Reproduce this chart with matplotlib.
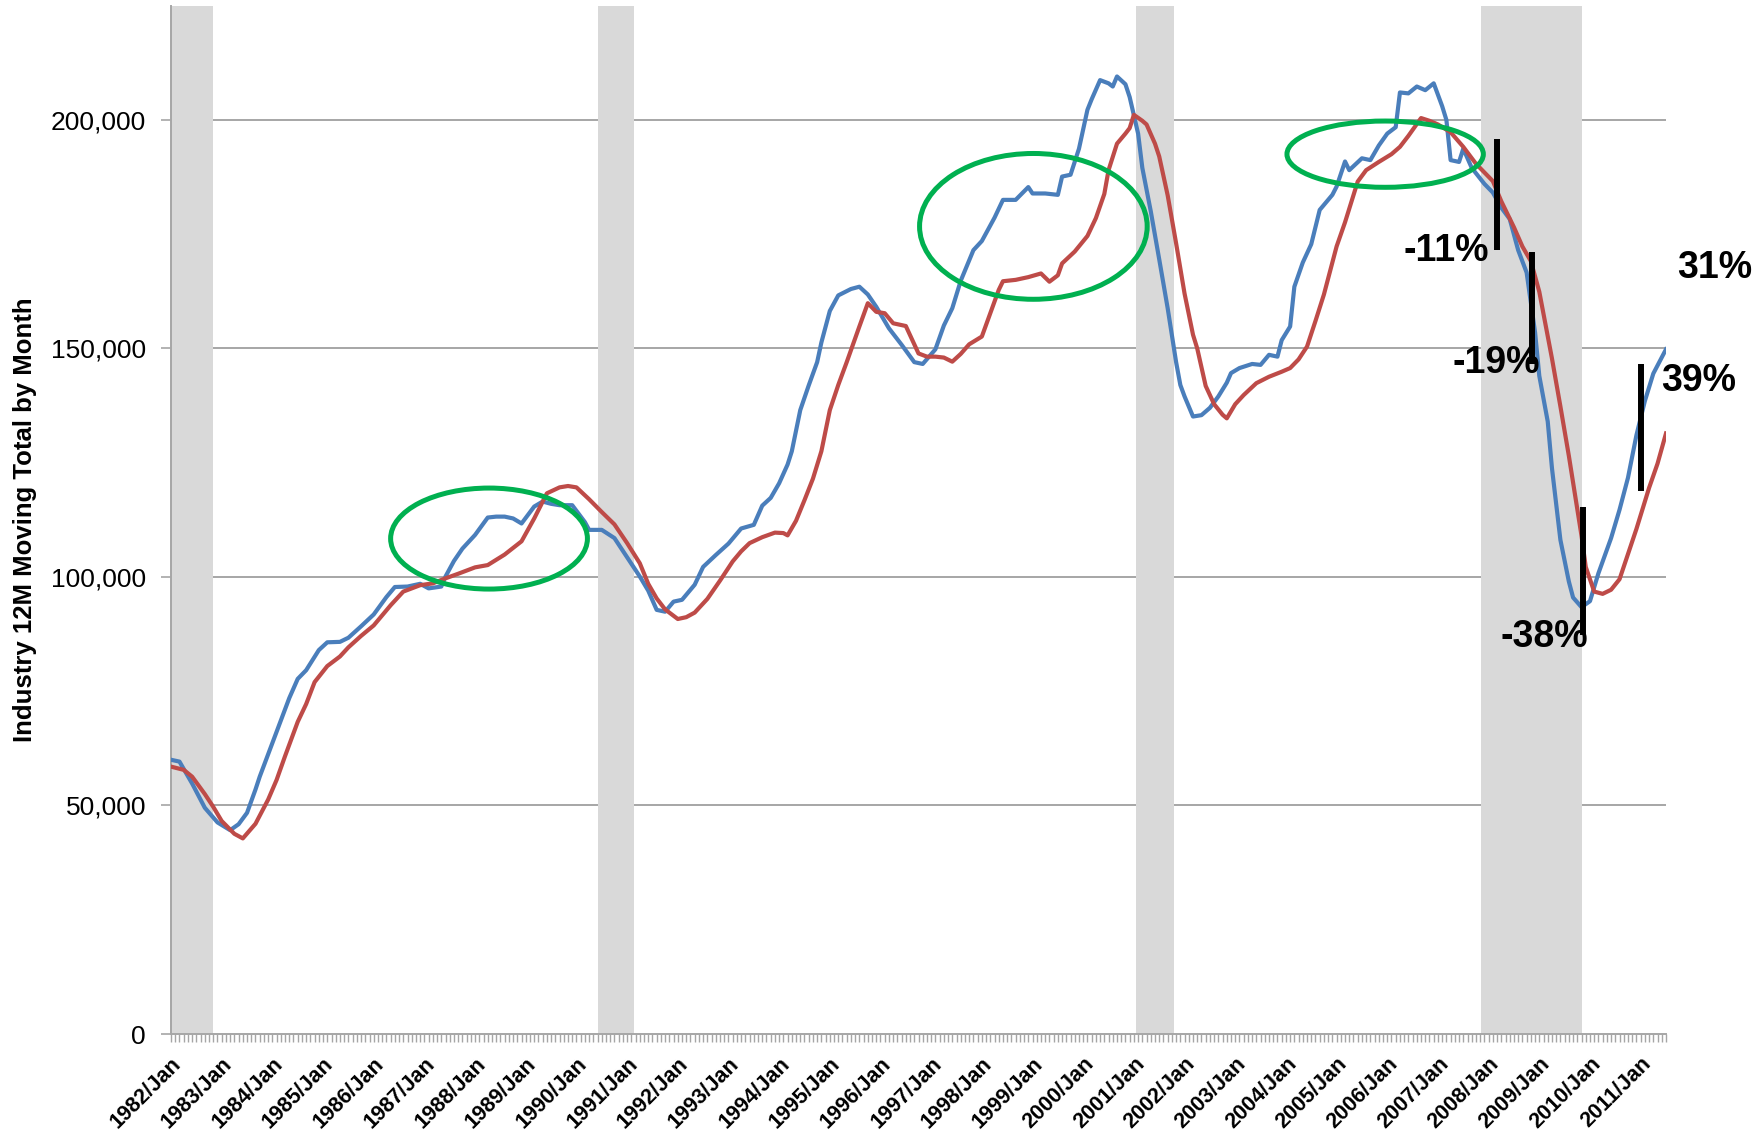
import matplotlib
matplotlib.use("Agg")
import matplotlib.pyplot as plt
from matplotlib.patches import Ellipse
from matplotlib.ticker import FixedLocator, FuncFormatter

plt.rcParams['font.family'] = ['Liberation Sans', 'DejaVu Sans']

# ---------------- data (month index 0 = 1982/Jan, values in thousands) ----------------
years = list(range(1982, 2012))
tick_labels = [f"{y}/Jan" for y in years]

blue_series = [
    (0, 60.0), (2, 59.6), (5, 54.8), (8, 49.5), (11, 46.3), (14, 44.6), (16, 45.9), (18, 48.4),
    (20, 53.5), (21, 56.3), (23, 61.2), (26, 68.5), (28, 73.5), (30, 77.7), (32, 79.6), (35, 84.0),
    (37, 85.7), (40, 85.8), (42, 86.7), (45, 89.2), (48, 91.8), (51, 95.6), (53, 97.8), (56, 97.9),
    (59, 98.5), (61, 97.5), (64, 97.9), (65, 100.1), (67, 103.5), (69, 106.2), (72, 109.2), (75, 113.0),
    (77, 113.2), (79, 113.2), (81, 112.8), (83, 111.7), (86, 115.4), (88, 116.5), (90, 116.0), (92, 115.7),
    (95, 115.7), (98, 112.0), (99, 110.3), (102, 110.3), (105, 108.5), (108, 104.3), (111, 100.1), (113, 97.0),
    (115, 92.8), (117, 92.4), (119, 94.6), (121, 95.0), (124, 98.3), (126, 102.2), (129, 104.8), (132, 107.3),
    (135, 110.6), (138, 111.4), (140, 115.6), (142, 117.3), (144, 120.5), (146, 124.6), (147, 127.5), (149, 136.5),
    (151, 141.9), (153, 147.0), (154, 151.3), (156, 158.2), (158, 161.6), (161, 163.0), (163, 163.5), (165, 161.8),
    (167, 159.1), (170, 154.4), (173, 150.8), (176, 147.0), (178, 146.6), (181, 149.8), (183, 155.0), (185, 158.8),
    (187, 164.8), (190, 171.5), (192, 173.5), (195, 178.6), (197, 182.5), (200, 182.5), (203, 185.3), (204, 183.9),
    (207, 183.9), (210, 183.6), (211, 187.6), (213, 188.0), (215, 193.7), (217, 202.2), (218, 204.5), (220, 208.7),
    (222, 208.0), (223, 207.3), (224, 209.5), (226, 207.8), (227, 205.0), (229, 197.0), (230, 189.5), (232, 180.0),
    (234, 169.5), (236, 158.8), (238, 147.0), (239, 142.0), (240, 139.5), (242, 135.1), (244, 135.4), (246, 137.0),
    (248, 139.5), (250, 142.5), (251, 144.6), (253, 145.7), (256, 146.6), (258, 146.4), (260, 148.6), (262, 148.2),
    (263, 151.8), (265, 154.8), (266, 163.5), (268, 168.8), (270, 172.8), (272, 180.3), (275, 183.6), (276, 185.4),
    (278, 190.9), (279, 189.0), (282, 191.6), (284, 191.2), (286, 194.4), (288, 197.0), (290, 198.4), (291, 206.0),
    (293, 205.8), (295, 207.3), (297, 206.5), (299, 208.0), (301, 203.0), (302, 200.0), (303, 191.2), (305, 190.8),
    (306, 193.7), (308, 189.5), (311, 186.0), (313, 184.1), (315, 180.8), (317, 178.3), (319, 171.5), (321, 166.6),
    (323, 153.5), (324, 144.0), (326, 134.0), (327, 123.8), (329, 108.1), (331, 99.0), (332, 95.5), (334, 93.4),
    (336, 94.7), (338, 100.8), (341, 108.5), (343, 114.7), (345, 121.7), (347, 131.0), (349, 138.5), (351, 144.5),
    (354, 149.8),
]

red_series = [
    (0, 58.5), (3, 57.8), (5, 56.3), (8, 52.5), (10, 49.7), (12, 46.6), (15, 43.8), (17, 42.8),
    (20, 46.0), (23, 51.3), (25, 55.6), (27, 60.8), (30, 68.3), (32, 72.2), (34, 77.0), (37, 80.5),
    (40, 82.6), (42, 84.6), (45, 87.1), (48, 89.4), (52, 93.8), (55, 96.8), (59, 98.2), (62, 98.6),
    (65, 99.7), (68, 100.7), (72, 102.1), (75, 102.6), (79, 104.9), (83, 107.8), (86, 112.8), (89, 118.3),
    (92, 119.6), (94, 119.9), (96, 119.6), (99, 117.0), (102, 114.2), (105, 111.5), (108, 107.4), (111, 103.0),
    (113, 98.5), (115, 95.3), (117, 92.9), (120, 90.8), (122, 91.2), (124, 92.2), (127, 95.2), (130, 99.2),
    (133, 103.4), (135, 105.6), (137, 107.4), (140, 108.7), (143, 109.7), (145, 109.6), (146, 109.1), (148, 112.3),
    (150, 116.8), (152, 121.5), (154, 127.5), (156, 136.5), (158, 142.0), (160, 147.0), (163, 154.8), (165, 159.9),
    (167, 158.0), (169, 157.7), (171, 155.5), (174, 154.9), (177, 148.9), (179, 148.2), (181, 148.2), (183, 148.0),
    (185, 147.1), (187, 148.8), (189, 150.9), (192, 152.6), (194, 157.7), (196, 162.8), (197, 164.7), (200, 165.0),
    (203, 165.6), (206, 166.4), (208, 164.6), (210, 166.0), (211, 168.6), (214, 171.2), (217, 174.6), (219, 178.5),
    (221, 183.8), (222, 189.0), (224, 194.8), (226, 197.0), (227, 198.2), (228, 201.1), (230, 199.8), (231, 199.0),
    (233, 194.8), (234, 192.0), (236, 183.5), (238, 173.0), (240, 162.0), (242, 153.0), (243, 150.0), (245, 141.8),
    (247, 137.8), (249, 135.5), (250, 134.7), (252, 137.8), (254, 139.8), (257, 142.4), (260, 143.8), (263, 144.9),
    (265, 145.7), (267, 147.6), (269, 150.4), (271, 156.0), (273, 161.8), (276, 172.3), (278, 177.6), (280, 183.5),
    (281, 186.5), (283, 189.0), (286, 190.8), (289, 192.5), (291, 194.1), (293, 196.5), (296, 200.4), (298, 199.8),
    (300, 199.0), (303, 197.3), (306, 194.1), (309, 190.4), (313, 186.6), (315, 182.2), (318, 176.5), (320, 172.3),
    (322, 169.1), (324, 162.4), (327, 147.8), (329, 137.3), (331, 126.5), (334, 109.0), (335, 102.2), (337, 96.8),
    (339, 96.3), (341, 97.2), (343, 99.5), (345, 105.0), (347, 110.5), (350, 119.5), (352, 124.8), (354, 131.4),
]

# recession shading (start month, end month)
recessions = [(0, 10.0), (101.1, 109.7), (228.5, 237.4), (310.2, 334.1)]

# green ellipses: (center month, center value k, width months, height k)
ellipses = [(75.3, 108.4, 46.6, 22.1), (204.2, 176.7, 53.9, 31.9), (287.5, 192.5, 46.5, 14.5)]

# black vertical bars: (month, low k, high k)
bars = [(314.0, 171.5, 195.8), (322.3, 146.5, 171.2), (334.4, 87.2, 115.3), (348.2, 118.9, 146.7)]

# percent labels: (text, month, value k)
pct_labels = [("-11%", 302.0, 171.4), ("-19%", 313.9, 146.8), ("-38%", 325.2, 86.9),
              ("39%", 361.7, 142.9), ("31%", 365.5, 167.7)]

y_ticks = [0, 50000, 100000, 150000, 200000]

# ---------------- figure ----------------
fig = plt.figure(figsize=(17.65, 11.47), dpi=100)
ax = fig.add_axes([0.0969, 0.0985, 0.8470, 0.8966])

for a, b in recessions:
    ax.axvspan(a, b, color='#d9d9d9', lw=0, zorder=1)

for v in y_ticks[1:]:
    ax.axhline(v, color='#a6a6a6', lw=1.4, zorder=0.5)

bm = [p[0] for p in blue_series]
bv = [p[1] * 1000 for p in blue_series]
rm = [p[0] for p in red_series]
rv = [p[1] * 1000 for p in red_series]
ax.plot(bm, bv, color='#4a7ebb', lw=3.0, zorder=3, solid_joinstyle='round')
ax.plot(rm, rv, color='#be4b48', lw=3.0, zorder=3.1, solid_joinstyle='round')

for cx, cy, w, h in ellipses:
    ax.add_patch(Ellipse((cx, cy * 1000), w, h * 1000, fill=False, ec='#00b050', lw=3.6, zorder=5))

for m, lo, hi in bars:
    ax.plot([m, m], [lo * 1000, hi * 1000], color='black', lw=4.3, solid_capstyle='butt', zorder=6)

for t, m, v in pct_labels:
    ax.text(m, v * 1000, t, ha='center', va='center', fontsize=27, fontweight='bold',
            color='black', zorder=7, clip_on=False)

ax.set_xlim(0, 354)
ax.set_ylim(0, 225000)

ax.yaxis.set_major_locator(FixedLocator(y_ticks))
ax.yaxis.set_major_formatter(FuncFormatter(lambda v, p: f"{int(v):,}"))
ax.tick_params(axis='y', labelsize=19, length=7, width=1.2, color='#a6a6a6', pad=11)

ax.set_xticks([(y - 1982) * 12 for y in years])
ax.set_xticks(list(range(0, 355)), minor=True)
ax.set_xticklabels(tick_labels, rotation=45, ha='right', rotation_mode='anchor',
                   fontsize=15.5, fontweight='bold')
ax.tick_params(axis='x', which='both', length=6, width=1.0, color='#a6a6a6', pad=8)

for s in ['top', 'right']:
    ax.spines[s].set_visible(False)
for s in ['left', 'bottom']:
    ax.spines[s].set_color('#a6a6a6')
    ax.spines[s].set_linewidth(1.4)

ax.set_ylabel("Industry 12M Moving Total by Month", fontsize=18.5, fontweight='bold', labelpad=10)

fig.savefig("out.png", dpi=100)
